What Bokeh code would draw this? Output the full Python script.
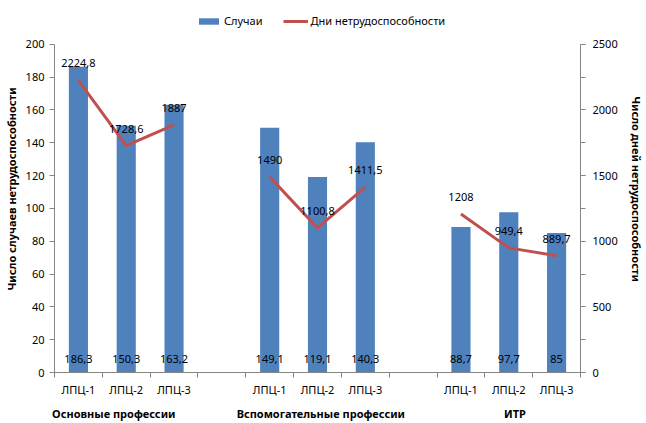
import math
from bokeh.plotting import figure
from bokeh.models import (Range1d, LinearAxis, FixedTicker, ColumnDataSource,
                          Legend, LegendItem)
from bokeh.embed import file_html
from bokeh.resources import INLINE
from bokeh.core.properties import value

# ---- data ----
groups = ["Основные профессии", "Вспомогательные профессии", "ИТР"]
shops = ["ЛПЦ-1", "ЛПЦ-2", "ЛПЦ-3"]
cases = [186.3, 150.3, 163.2, 149.1, 119.1, 140.3, 88.7, 97.7, 85]
days = [2224.8, 1728.6, 1887, 1490, 1100.8, 1411.5, 1208, 949.4, 889.7]
left_title = "Число случаев нетрудоспособности"
right_title = "Число дней нетрудоспособности"
legend_labels = ["Случаи", "Дни нетрудоспособности"]
left_max, left_step = 200, 20
right_max, right_step = 2500, 500

# ---- styles / layout ----
BAR = "#4F81BD"
LINE = "#C0504D"
GRID = "#868686"
FONT = "Noto Sans"
W, H = 646, 423
LEFT, RIGHT, TOP_AXIS, BOTTOM_AXIS = 53, 584, 44, 374   # plot-area pixels
FRAME_TOP = 5                                            # room for legend
group_label_shift = [-0.26, 0.07, 0.13]


def fmt(v):
    return f"{v:g}".replace(".", ",")


n = len(shops)
step = n + 1
xs = [g * step + i for g in range(len(groups)) for i in range(n)]
xmax = (len(groups) - 1) * step + n - 1

# extend the value ranges upward so the legend fits inside the frame
y_end = left_max * (BOTTOM_AXIS - FRAME_TOP) / (BOTTOM_AXIS - TOP_AXIS)
y2_end = right_max * y_end / left_max

line_x, line_y = [], []
for g in range(len(groups)):
    for i in range(n):
        line_x.append(g * step + i)
        line_y.append(days[g * n + i])
    if g < len(groups) - 1:
        line_x.append(g * step + n)
        line_y.append(math.nan)

src = ColumnDataSource(dict(x=xs, cases=cases, days=days,
                            clab=[fmt(v) for v in cases],
                            dlab=[fmt(v) for v in days],
                            zero=[0] * len(xs)))

p = figure(width=W, height=H, output_backend="svg", toolbar_location=None,
           x_range=Range1d(-0.5, xmax + 0.5), y_range=Range1d(0, y_end),
           min_border_left=LEFT, min_border_right=W - RIGHT,
           min_border_top=FRAME_TOP, min_border_bottom=H - BOTTOM_AXIS,
           x_axis_type=None, y_axis_type=None)
p.outline_line_color = None
p.background_fill_color = "white"
p.border_fill_color = "white"
p.extra_y_ranges = {"days": Range1d(0, y2_end)}

left_ticks = list(range(0, left_max + 1, left_step))
right_major = list(range(0, right_max + 1, right_step))
right_minor = list(range(0, right_max + 1, right_step // 2))

# left axis
yl = LinearAxis(ticker=FixedTicker(ticks=left_ticks, minor_ticks=[]),
                bounds=(0, left_max), axis_label=left_title)
yl.axis_line_color = GRID
yl.major_tick_line_color = GRID
yl.major_tick_in = 0
yl.major_tick_out = 5
yl.minor_tick_in = 0
yl.minor_tick_out = 0
yl.major_label_standoff = 5
yl.major_label_text_font = FONT
yl.major_label_text_font_size = "11px"
yl.major_label_text_color = "black"
yl.axis_label_standoff = 4
yl.axis_label_text_font = FONT
yl.axis_label_text_font_size = "11px"
yl.axis_label_text_font_style = "bold"
yl.axis_label_text_color = "black"
p.add_layout(yl, "left")

# right axis
yr = LinearAxis(y_range_name="days",
                ticker=FixedTicker(ticks=right_major, minor_ticks=right_minor),
                bounds=(0, right_max), axis_label=right_title)
yr.axis_line_color = GRID
yr.major_tick_line_color = GRID
yr.minor_tick_line_color = GRID
yr.major_tick_in = 0
yr.major_tick_out = 5
yr.minor_tick_in = 0
yr.minor_tick_out = 5
yr.major_label_standoff = 7
yr.major_label_text_font = FONT
yr.major_label_text_font_size = "11px"
yr.major_label_text_color = "black"
yr.axis_label_standoff = 8
yr.axis_label_text_font = FONT
yr.axis_label_text_font_size = "11px"
yr.axis_label_text_font_style = "bold"
yr.axis_label_text_color = "black"
p.add_layout(yr, "right")

# bottom axis with shop names
bounds = [k - 0.5 for k in range(xmax + 2)]
xa = LinearAxis(ticker=FixedTicker(ticks=xs, minor_ticks=bounds),
                major_label_overrides={float(x): shops[k % n] for k, x in enumerate(xs)})
xa.axis_line_color = GRID
xa.major_tick_line_color = None
xa.major_tick_in = 0
xa.major_tick_out = 0
xa.minor_tick_line_color = GRID
xa.minor_tick_in = 0
xa.minor_tick_out = 5
xa.major_label_standoff = 4
xa.major_label_text_font = FONT
xa.major_label_text_font_size = "11px"
xa.major_label_text_color = "black"
p.add_layout(xa, "below")

# second bottom axis with group names
gpos = [g * step + (n - 1) / 2 + group_label_shift[g] for g in range(len(groups))]
ga = LinearAxis(ticker=FixedTicker(ticks=gpos, minor_ticks=[]),
                major_label_overrides={float(x): groups[g] for g, x in enumerate(gpos)})
ga.axis_line_color = None
ga.major_tick_line_color = None
ga.minor_tick_line_color = None
ga.major_tick_in = 0
ga.major_tick_out = 0
ga.minor_tick_in = 0
ga.minor_tick_out = 0
ga.major_label_standoff = 6
ga.major_label_text_font = FONT
ga.major_label_text_font_size = "11px"
ga.major_label_text_font_style = "bold"
ga.major_label_text_color = "black"
p.add_layout(ga, "below")

# grid
p.ygrid.ticker = FixedTicker(ticks=left_ticks, minor_ticks=[])
p.ygrid.bounds = (0, left_max)
p.ygrid.grid_line_color = GRID
p.xgrid.grid_line_color = None

bars = p.vbar(x="x", top="cases", width=0.4, source=src, fill_color=BAR,
              line_color=None)
ln = p.line(line_x, line_y, y_range_name="days", line_color=LINE, line_width=3)

p.text(x="x", y="zero", text="clab", source=src, text_align="center",
       text_baseline="middle", y_offset=-14, text_font=value(FONT),
       text_font_size="11px", text_color="black")
p.text(x="x", y="days", text="dlab", source=src, y_range_name="days",
       text_align="center", text_baseline="middle", y_offset=-17,
       text_font=value(FONT), text_font_size="11px", text_color="black")

legend = Legend(items=[LegendItem(label=legend_labels[0], renderers=[bars]),
                       LegendItem(label=legend_labels[1], renderers=[ln])],
                orientation="horizontal", location=(142, 344),
                glyph_width=25, glyph_height=8, label_height=12,
                label_standoff=3, spacing=20, padding=2, margin=0,
                label_text_font=FONT, label_text_font_size="11px",
                label_text_color="black", border_line_color=None,
                background_fill_alpha=0)
p.add_layout(legend, "center")

open("out.html", "w").write(file_html(p, INLINE))
